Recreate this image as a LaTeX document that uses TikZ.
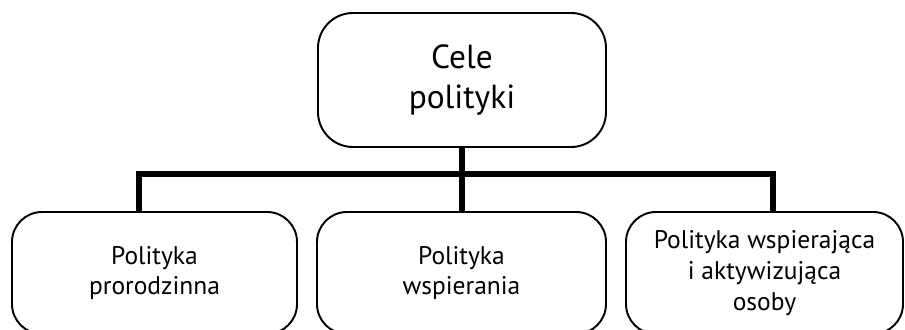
\documentclass[tikz,border=0pt]{standalone}
\usepackage{fontspec}
\setmainfont{PT Sans}
\usepackage{tikz}
\usetikzlibrary{positioning, calc}

\begin{document}
\begin{tikzpicture}[
  goal/.style={rectangle, draw=black, line width=1.1pt, fill=white,
    rounded corners=0.7cm, minimum width=5.76cm, minimum height=2.68cm,
    align=center, font=\fontsize{19}{23}\selectfont},
  policy/.style={rectangle, draw=black, line width=1.1pt, fill=white,
    rounded corners=0.6cm, minimum height=2.44cm,
    align=center, font=\fontsize{14.5}{17.6}\selectfont},
  link/.style={draw=black, line width=3.4pt, line join=miter}
]
  \useasboundingbox (0,0) rectangle (18.1,6.58);
  \clip (0,0) rectangle (18.1,6.58);

  % Nodes
  \node[goal] (cele) at (9.24, 4.98) {Cele\\polityki};
  \node[policy, minimum width=5.70cm] (prorodz) at (3.09, 1.12) {Polityka\\prorodzinna};
  \node[policy, minimum width=5.78cm] (wspier)  at (9.23, 1.12) {Polityka\\wspierania};
  \node[policy, minimum width=5.54cm] (aktyw)   at (15.29, 1.12) {Polityka wspierająca\\i aktywizująca\\osoby};

  % Tree lines
  \coordinate (jl) at (2.78, 3.10);
  \coordinate (jm) at (9.24, 3.10);
  \coordinate (jr) at (15.46, 3.10);
  \draw[link] (cele.south) -- (jm);
  \draw[link] (jl |- prorodz.north) -- (jl) -- (jr) -- (jr |- aktyw.north);
  \draw[link] (jm) -- (jm |- wspier.north);
\end{tikzpicture}
\end{document}
